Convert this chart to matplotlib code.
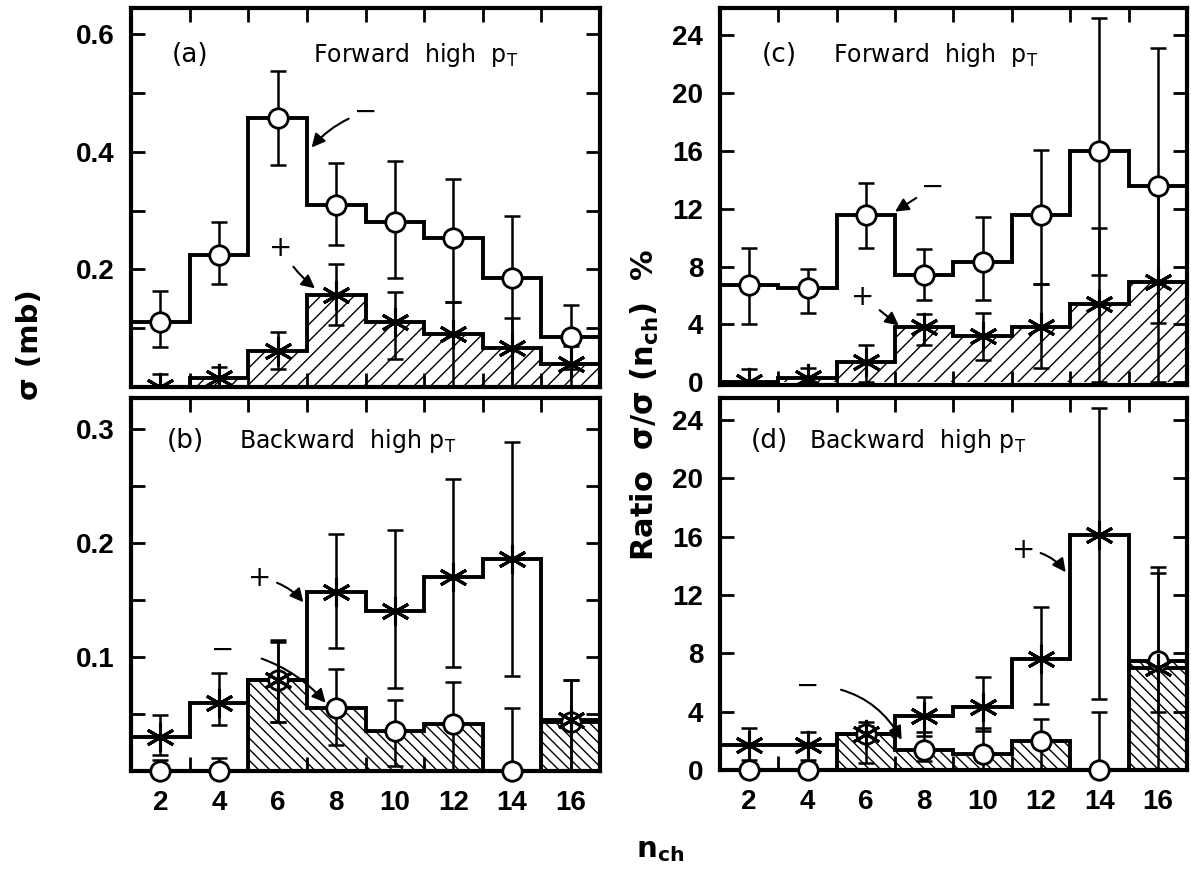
import numpy as np
import matplotlib.pyplot as plt

# multiplicity bins, centred on even n_ch, edges at odd values
n_ch = [2, 4, 6, 8, 10, 12, 14, 16]
edges = [1, 3, 5, 7, 9, 11, 13, 15, 17]

# (a) forward high pT, sigma (mb)
a_minus = [0.11, 0.225, 0.458, 0.31, 0.28, 0.254, 0.185, 0.085]
a_minus_hi = [0.164, 0.28, 0.538, 0.381, 0.385, 0.354, 0.291, 0.14]
a_minus_lo = [0.068, 0.175, 0.378, 0.242, 0.186, 0.145, 0.0, 0.03]
a_plus = [0.0, 0.015, 0.061, 0.157, 0.11, 0.09, 0.066, 0.04]
a_plus_hi = [0.022, 0.034, 0.093, 0.21, 0.162, 0.145, 0.117, 0.07]
a_plus_lo = [0.0, 0.0, 0.03, 0.106, 0.047, 0.0, 0.0, 0.0]

# (b) backward high pT, sigma (mb)
b_plus = [0.03, 0.06, 0.08, 0.157, 0.14, 0.17, 0.186, 0.045]
b_plus_hi = [0.049, 0.086, 0.113, 0.208, 0.211, 0.256, 0.288, 0.08]
b_plus_lo = [0.014, 0.04, 0.043, 0.108, 0.073, 0.091, 0.083, 0.0]
b_minus = [0.0, 0.0, 0.08, 0.055, 0.035, 0.041, 0.0, 0.043]
b_minus_hi = [0.01, 0.011, 0.115, 0.089, 0.062, 0.078, 0.055, 0.08]
b_minus_lo = [0.0, 0.0, 0.043, 0.023, 0.004, 0.0, 0.0, 0.0]

# (c) forward high pT, ratio %
c_minus = [6.75, 6.5, 11.6, 7.4, 8.3, 11.6, 16.0, 13.6]
c_minus_hi = [9.3, 7.8, 13.8, 9.2, 11.4, 16.1, 25.2, 23.1]
c_minus_lo = [4.0, 4.8, 9.3, 5.7, 5.7, 6.8, 7.4, 4.1]
c_plus = [0.0, 0.3, 1.4, 3.8, 3.2, 3.8, 5.4, 6.9]
c_plus_hi = [0.9, 1.0, 2.6, 4.7, 4.8, 6.8, 10.7, 13.7]
c_plus_lo = [0.0, 0.0, 0.0, 2.6, 1.5, 1.0, 0.0, 0.0]

# (d) backward high pT, ratio %
d_plus = [1.7, 1.7, 2.5, 3.7, 4.3, 7.6, 16.1, 7.0]
d_plus_hi = [2.9, 2.6, 3.0, 5.0, 6.4, 11.2, 24.8, 13.9]
d_plus_lo = [0.7, 0.7, 0.5, 2.3, 2.7, 4.5, 4.9, 0.0]
d_minus = [0.0, 0.0, 2.5, 1.4, 1.1, 2.0, 0.0, 7.5]
d_minus_hi = [0.0, 0.0, 3.3, 2.6, 2.9, 3.5, 4.0, 13.5]
d_minus_lo = [0.0, 0.0, 2.0, 0.6, 0.0, 0.0, 0.0, 4.0]

plt.rcParams['hatch.linewidth'] = 1.0
tickfont = {'family': ['Liberation Sans', 'DejaVu Sans'], 'weight': 'bold', 'size': 20}
star = (6, 2, 0)

fig = plt.figure(figsize=(11.91, 8.8), dpi=100)
ax_a = fig.add_axes([0.110, 0.5602, 0.3938, 0.4307])
ax_b = fig.add_axes([0.110, 0.1239, 0.3938, 0.4239])
ax_c = fig.add_axes([0.6045, 0.5625, 0.3921, 0.4284])
ax_d = fig.add_axes([0.6045, 0.125, 0.3921, 0.4227])


def draw_set(ax, vals, hi, lo, marker, hatch=None):
    vals = np.array(vals)
    if hatch:
        ax.bar(n_ch, vals, width=2, fill=False, hatch=hatch, linewidth=0, edgecolor='k')
    ax.stairs(vals, edges, color='k', linewidth=2.8, baseline=None)
    err = [vals - np.array(lo), np.array(hi) - vals]
    ax.errorbar(n_ch, vals, yerr=err, fmt='none', ecolor='k', elinewidth=1.8,
                capsize=6, capthick=1.8, clip_on=False)
    if marker == 'o':
        ax.plot(n_ch, vals, 'o', ms=14, mfc='white', mec='k', mew=2, clip_on=False, zorder=5)
    else:
        ax.plot(n_ch, vals, ls='none', marker=star, ms=21, mec='k', mew=2.2, zorder=5)


def style(ax, ymax, ymin, major, minor, xlabels):
    ax.set_xlim(1, 17)
    ax.set_ylim(ymin, ymax)
    ax.set_xticks(range(3, 17, 2))
    ax.set_xticklabels([])
    ax.set_xticks(range(2, 17, 2), minor=True)
    if xlabels:
        ax.set_xticklabels([str(v) for v in range(2, 17, 2)], minor=True, fontdict=tickfont)
    ax.set_yticks(major)
    ax.set_yticklabels([('%g' % v) for v in major], fontdict=tickfont)
    if minor:
        ax.set_yticks(minor, minor=True)
    ax.tick_params(axis='both', which='major', direction='in', length=10, width=2,
                   top=True, right=True, pad=12)
    ax.tick_params(axis='y', which='minor', direction='in', length=10, width=2, right=True)
    ax.tick_params(axis='x', which='minor', length=0, pad=14)
    for s in ax.spines.values():
        s.set_linewidth(3)


# (a)
draw_set(ax_a, a_plus, a_plus_hi, a_plus_lo, '*', hatch='//')
draw_set(ax_a, a_minus, a_minus_hi, a_minus_lo, 'o')
style(ax_a, 0.645, 0, [0.2, 0.4, 0.6], [0.1, 0.3, 0.5], False)
ax_a.text(0.087, 0.875, '(a)', transform=ax_a.transAxes, fontsize=19, va='center')
ax_a.text(0.388, 0.875, r'Forward  high  p$_\mathregular{T}$', transform=ax_a.transAxes,
          fontsize=17, va='center')
ax_a.annotate('−', xy=(7.1, 0.404), xytext=(9.0, 0.468), fontsize=20, ha='center', va='center',
              arrowprops=dict(arrowstyle='-|>', color='k', lw=1.5, connectionstyle='arc3,rad=0.15'))
ax_a.annotate('+', xy=(7.35, 0.165), xytext=(6.1, 0.237), fontsize=20, ha='center', va='center',
              arrowprops=dict(arrowstyle='-|>', color='k', lw=1.5, connectionstyle='arc3,rad=0.1'))

# (b)
draw_set(ax_b, b_minus, b_minus_hi, b_minus_lo, 'o', hatch='\\\\\\')
draw_set(ax_b, b_plus, b_plus_hi, b_plus_lo, '*')
style(ax_b, 0.327, 0, [0.1, 0.2, 0.3], [0.05, 0.15, 0.25], True)
ax_b.text(0.077, 0.885, '(b)', transform=ax_b.transAxes, fontsize=19, va='center')
ax_b.text(0.23, 0.885, r'Backward  high p$_\mathregular{T}$', transform=ax_b.transAxes,
          fontsize=17, va='center')
ax_b.annotate('+', xy=(6.94, 0.146), xytext=(5.4, 0.169), fontsize=20, ha='center', va='center',
              arrowprops=dict(arrowstyle='-|>', color='k', lw=1.5, connectionstyle='arc3,rad=-0.2'))
ax_b.annotate('−', xy=(7.7, 0.058), xytext=(4.14, 0.106), fontsize=20, ha='center', va='center',
              arrowprops=dict(arrowstyle='-|>', color='k', lw=1.5, connectionstyle='arc3,rad=-0.2',
                              shrinkA=18))

# (c)
draw_set(ax_c, c_plus, c_plus_hi, c_plus_lo, '*', hatch='//')
draw_set(ax_c, c_minus, c_minus_hi, c_minus_lo, 'o')
style(ax_c, 25.9, -0.2, list(range(0, 25, 4)), None, False)
ax_c.text(0.09, 0.875, '(c)', transform=ax_c.transAxes, fontsize=19, va='center')
ax_c.text(0.243, 0.875, r'Forward  high  p$_\mathregular{T}$', transform=ax_c.transAxes,
          fontsize=17, va='center')
ax_c.annotate('−', xy=(6.92, 11.7), xytext=(8.3, 13.5), fontsize=20, ha='center', va='center',
              arrowprops=dict(arrowstyle='-|>', color='k', lw=1.5))
ax_c.annotate('+', xy=(7.2, 3.8), xytext=(5.9, 5.9), fontsize=20, ha='center', va='center',
              arrowprops=dict(arrowstyle='-|>', color='k', lw=1.5))

# (d)
draw_set(ax_d, d_minus, d_minus_hi, d_minus_lo, 'o', hatch='\\\\\\')
draw_set(ax_d, d_plus, d_plus_hi, d_plus_lo, '*')
style(ax_d, 25.5, 0, list(range(0, 25, 4)), None, True)
ax_d.text(0.065, 0.885, '(d)', transform=ax_d.transAxes, fontsize=19, va='center')
ax_d.text(0.19, 0.885, r'Backward  high p$_\mathregular{T}$', transform=ax_d.transAxes,
          fontsize=17, va='center')
ax_d.annotate('+', xy=(12.9, 13.4), xytext=(11.4, 15.1), fontsize=20, ha='center', va='center',
              arrowprops=dict(arrowstyle='-|>', color='k', lw=1.5, connectionstyle='arc3,rad=-0.25'))
ax_d.annotate('−', xy=(7.27, 1.9), xytext=(4.0, 5.8), fontsize=20, ha='center', va='center',
              arrowprops=dict(arrowstyle='-|>', color='k', lw=1.5, connectionstyle='arc3,rad=-0.3',
                              shrinkA=14))

fig.text(30 / 1191, 1 - 345 / 880, 'σ (mb)', rotation=90, fontsize=21, fontweight='bold',
         ha='center', va='center')
fig.text(645 / 1191, 1 - 405 / 880, r'Ratio  σ/σ (n$_\mathregular{ch}$)  %', rotation=90,
         fontsize=22, fontweight='bold', ha='center', va='center')
fig.text(660 / 1191, 1 - 850 / 880, r'n$_\mathregular{ch}$', fontsize=21, fontweight='bold',
         ha='center', va='center')

fig.savefig('out.png', dpi=100)
